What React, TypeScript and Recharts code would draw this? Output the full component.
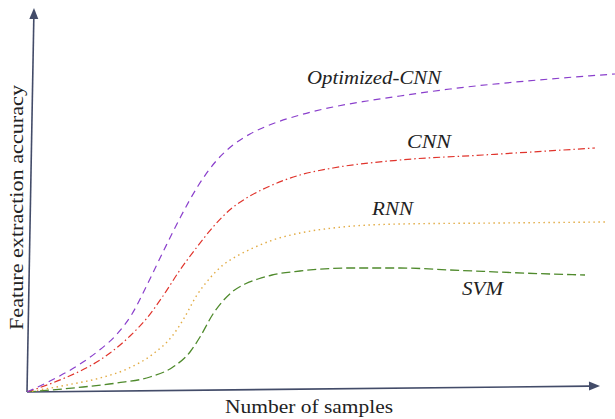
import React from "react";
import { LineChart, Line, XAxis, YAxis, ReferenceLine } from "recharts";

// x: number of samples (arbitrary units), y: feature extraction accuracy (arbitrary units)
const optX = [0, 23, 50, 70, 90, 105, 120, 136, 153, 171, 190, 206, 223, 240, 273, 306, 340, 373, 423, 523, 588];
const optY = [0, 11, 26, 40, 58, 78, 107, 140, 174, 206, 232, 247, 258, 266, 277, 285, 291, 296, 303, 313, 318];

const cnnX = [0, 40, 63, 83, 103, 120, 136, 153, 170, 186, 205, 223, 243, 273, 306, 373, 456, 568];
const cnnY = [0, 15, 26, 39, 56, 74, 96, 122, 145, 165, 184, 196, 206, 217, 224, 232, 237, 244];

const rnnX = [0, 40, 73, 100, 126, 146, 156, 170, 183, 196, 210, 226, 246, 273, 306, 373, 473, 578];
const rnnY = [0, 7, 14, 23, 38, 57, 72, 97, 114, 127, 136, 144, 152, 159, 164, 168, 169, 170];

const svmX = [0, 56, 90, 123, 146, 163, 173, 186, 195, 205, 218, 231, 245, 273, 323, 373, 423, 523, 558];
const svmY = [0, 5, 9, 15, 25, 40, 55, 78, 90, 100, 108, 113, 117, 121, 124, 124, 122, 118, 117];

const seriesNames = ["Optimized-CNN", "CNN", "RNN", "SVM"];
const xTitle = "Number of samples";
const yTitle = "Feature extraction accuracy";

const toRows = (xs: number[], ys: number[]) => xs.map((x, i) => ({ x, y: ys[i] }));

const AXIS = "#434c69";

const arrowLine = (props: any) => {
  const { x1, y1, x2, y2 } = props;
  const dx = x2 - x1;
  const dy = y2 - y1;
  const len = Math.sqrt(dx * dx + dy * dy);
  const ux = dx / len;
  const uy = dy / len;
  const hl = 11;
  const hw = 4.5;
  const bx = x2 - ux * hl;
  const by = y2 - uy * hl;
  const pts = `${x2},${y2} ${bx - uy * hw},${by + ux * hw} ${bx + uy * hw},${by - ux * hw}`;
  return (
    <g>
      <line x1={x1} y1={y1} x2={bx} y2={by} stroke={AXIS} strokeWidth={1.6} />
      <polygon points={pts} fill={AXIS} />
    </g>
  );
};

export default function App() {
  const font = "'Liberation Serif', 'DejaVu Serif', serif";
  return (
    <div style={{ position: "absolute", left: 0, top: 0, width: 615, height: 419, background: "#fff" }}>
      <LineChart width={615} height={419} margin={{ top: 8, right: 0, left: 27, bottom: 27 }}>
        <XAxis type="number" dataKey="x" domain={[0, 588]} hide allowDataOverflow />
        <YAxis type="number" dataKey="y" domain={[0, 384]} hide allowDataOverflow />
        <ReferenceLine
          segment={[{ x: 0, y: 0 }, { x: 573, y: 6 }]}
          ifOverflow="visible"
          shape={arrowLine}
        />
        <ReferenceLine
          segment={[{ x: 0, y: 0 }, { x: 7, y: 384 }]}
          ifOverflow="visible"
          shape={arrowLine}
        />
        <Line data={toRows(svmX, svmY)} dataKey="y" type="monotone" stroke="#4f8a2c" strokeWidth={1.3}
          strokeDasharray="9 4" dot={false} isAnimationActive={false} />
        <Line data={toRows(rnnX, rnnY)} dataKey="y" type="monotone" stroke="#e2ac45" strokeWidth={1.4}
          strokeDasharray="1.5 3.5" dot={false} isAnimationActive={false} />
        <Line data={toRows(cnnX, cnnY)} dataKey="y" type="monotone" stroke="#e0342c" strokeWidth={1.2}
          strokeDasharray="7 3 1.5 3" dot={false} isAnimationActive={false} />
        <Line data={toRows(optX, optY)} dataKey="y" type="monotone" stroke="#8a3fcc" strokeWidth={1.2}
          strokeDasharray="7 5" dot={false} isAnimationActive={false} />
      </LineChart>
      <svg width={615} height={419} style={{ position: "absolute", left: 0, top: 0, pointerEvents: "none" }}>
        <g fontFamily={font} fill="#222" fontStyle="italic" fontSize={19}>
          <text x={307} y={84} textLength={134} lengthAdjust="spacingAndGlyphs">{seriesNames[0]}</text>
          <text x={407} y={148} textLength={44} lengthAdjust="spacingAndGlyphs">{seriesNames[1]}</text>
          <text x={372} y={215} textLength={41} lengthAdjust="spacingAndGlyphs">{seriesNames[2]}</text>
          <text x={462} y={295} textLength={41} lengthAdjust="spacingAndGlyphs">{seriesNames[3]}</text>
        </g>
        <text x={225} y={413} fontFamily={font} fontSize={18} fill="#222" textLength={168} lengthAdjust="spacingAndGlyphs">
          {xTitle}
        </text>
        <text x={0} y={0} transform="translate(23,330) rotate(-90)" fontFamily={font} fontSize={18} fill="#222"
          textLength={245} lengthAdjust="spacingAndGlyphs">
          {yTitle}
        </text>
      </svg>
    </div>
  );
}
